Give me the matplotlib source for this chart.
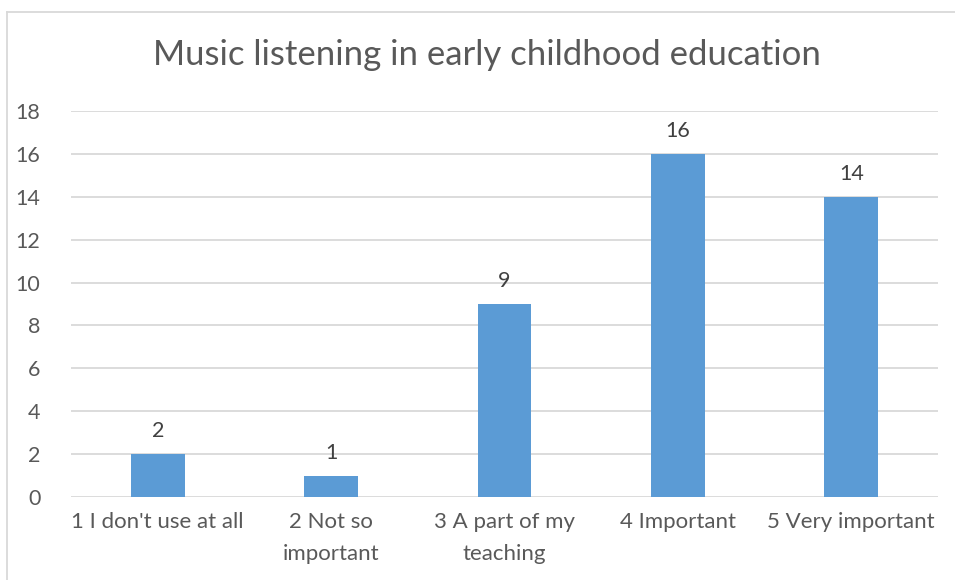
import matplotlib.pyplot as plt
from matplotlib.lines import Line2D

categories = ["1 I don't use at all", "2 Not so\nimportant", "3 A part of my\nteaching",
              "4 Important", "5 Very important"]
values = [2, 1, 9, 16, 14]

text_color = '#595959'
bar_color = '#5B9BD5'
grid_color = '#D9D9D9'

plt.rcParams['font.family'] = ['Lato', 'DejaVu Sans']

fig = plt.figure(figsize=(9.55, 5.8), dpi=100)
ax = fig.add_axes([71 / 955, 1 - 497 / 580, (938 - 71) / 955, (497 - 111) / 580])

x = list(range(len(categories)))
bars = ax.bar(x, values, width=0.31, color=bar_color, zorder=3)
for b, v in zip(bars, values):
    ax.text(b.get_x() + b.get_width() / 2, v + 0.6, str(v), ha='center', va='bottom',
            fontsize=15.5, color='#404040')

ax.set_xlim(-0.5, len(categories) - 0.5)
ax.set_ylim(0, 18)
ax.set_yticks(range(0, 19, 2))
ax.set_xticks(x)
ax.set_xticklabels(categories, fontsize=16, color=text_color, linespacing=1.75)
ax.tick_params(axis='y', labelsize=15.5, labelcolor=text_color, length=0, pad=22)
ax.tick_params(axis='x', length=0, pad=11)
ax.yaxis.grid(True, color=grid_color, linewidth=1.3, zorder=0)
for s in ax.spines.values():
    s.set_visible(False)

fig.text(487 / 955, 1 - 55 / 580, 'Music listening in early childhood education',
         ha='center', va='center', fontsize=25, color=text_color)

# chart border (left and top edges visible in the reference)
fig.add_artist(Line2D([7 / 955, 7 / 955], [0, 1 - 12 / 580], transform=fig.transFigure,
                      color=grid_color, linewidth=1.3))
fig.add_artist(Line2D([7 / 955, 1], [1 - 12 / 580, 1 - 12 / 580], transform=fig.transFigure,
                      color=grid_color, linewidth=1.3))

fig.savefig('out.png', dpi=100)
